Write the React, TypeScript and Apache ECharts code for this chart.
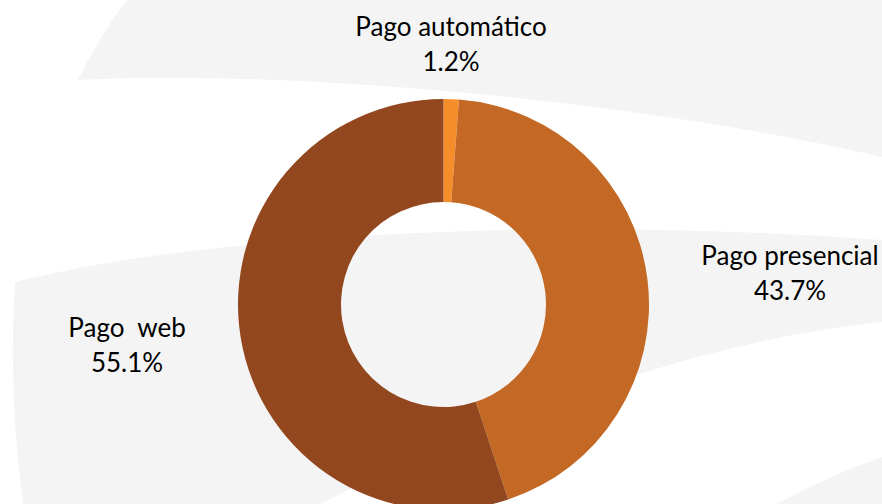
import React, { useEffect, useRef } from "react";
import * as echarts from "echarts";

const categories = ["Pago automático", "Pago presencial", "Pago  web"];
const values = [1.2, 43.7, 55.1];
const colors = ["#F58E2A", "#C46925", "#93471E"];
const labelPositions = [
  [451, 43],
  [790, 272],
  [127, 344],
];

const BG_TOP = "M127,0 Q98,38 78,80 C250,70 600,92 882,157 L882,0 Z";
const BG_MID =
  "M15,282 C200,235 550,215 882,240 L882,322 C750,335 560,385 320,504 L23,504 Q8,390 15,282 Z";
const BG_BR = "M777,504 Q830,475 882,457 L882,504 Z";

export default function App() {
  const ref = useRef<HTMLDivElement>(null);
  useEffect(() => {
    if (!ref.current) return;
    echarts.graphic.registerShape("bgTop", echarts.graphic.extendPath(BG_TOP, {}));
    echarts.graphic.registerShape("bgMid", echarts.graphic.extendPath(BG_MID, {}));
    echarts.graphic.registerShape("bgBr", echarts.graphic.extendPath(BG_BR, {}));
    const chart = echarts.init(ref.current, undefined, { renderer: "svg" });
    chart.setOption({
      animation: false,
      backgroundColor: "#ffffff",
      graphic: {
        elements: [
          { type: "bgTop", x: 0, y: 0, z: -10, silent: true, style: { fill: "#F4F4F4" } },
          { type: "bgMid", x: 0, y: 0, z: -10, silent: true, style: { fill: "#F4F4F4" } },
          { type: "bgBr", x: 0, y: 0, z: -10, silent: true, style: { fill: "#F4F4F4" } },
        ],
      },
      series: [
        {
          type: "pie",
          center: [443.5, 304.5],
          radius: [102.5, 205.5],
          startAngle: 90,
          clockwise: true,
          avoidLabelOverlap: false,
          data: categories.map((name, i) => ({
            name,
            value: values[i],
            itemStyle: { color: colors[i] },
          })),
          label: {
            show: true,
            position: "outside",
            formatter: (p: any) => `${p.name}\n${p.value.toFixed(1)}%`,
            fontFamily: "Lato",
            fontSize: 26,
            lineHeight: 35,
            color: "#000000",
            align: "center",
          },
          labelLine: { show: false },
          labelLayout: (params: any) => {
            const pos = labelPositions[params.dataIndex];
            return { x: pos[0], y: pos[1], align: "center", verticalAlign: "middle" };
          },
          emphasis: { disabled: true },
        },
      ],
    });
    return () => chart.dispose();
  }, []);
  return (
    <div
      ref={ref}
      style={{ position: "fixed", left: 0, top: 0, width: 882, height: 504 }}
    />
  );
}
